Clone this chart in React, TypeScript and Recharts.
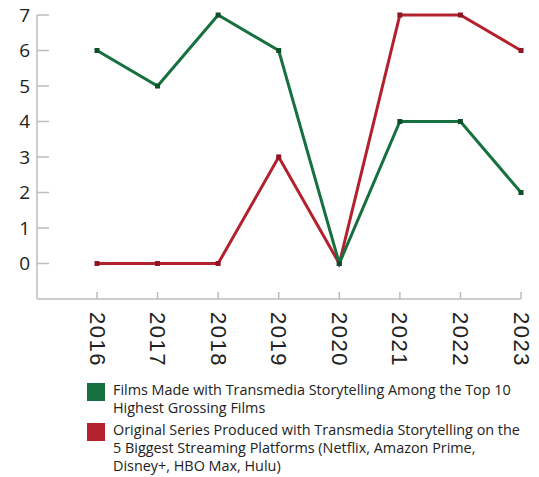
import React from 'react';
import { LineChart, Line, XAxis, YAxis, Legend } from 'recharts';

const years = ['2016', '2017', '2018', '2019', '2020', '2021', '2022', '2023'];
const films = [6, 5, 7, 6, 0, 4, 4, 2];
const series = [0, 0, 0, 3, 0, 7, 7, 6];
const yTicks = [0, 1, 2, 3, 4, 5, 6, 7];

const GREEN = '#17703f';
const RED = '#b3202e';
const AXIS = '#bdbdbd';

const legendItems = [
  {
    color: GREEN,
    lines: ['Films Made with Transmedia Storytelling Among the Top 10', 'Highest Grossing Films'],
  },
  {
    color: RED,
    lines: [
      'Original Series Produced with Transmedia Storytelling on the',
      '5 Biggest Streaming Platforms (Netflix, Amazon Prime,',
      'Disney+, HBO Max, Hulu)',
    ],
  },
];

const data = years.map((year, i) => ({ year, films: films[i], series: series[i] }));

const SquareDot = ({ cx, cy, fill }: any) => {
  if (cx == null || cy == null) return null;
  return <rect x={cx - 2.5} y={cy - 2.5} width={5} height={5} fill={fill} />;
};

const YearTick = ({ x, y, payload }: any) => (
  <g transform={`translate(${x},${y})`}>
    <text
      transform="rotate(90)"
      textAnchor="start"
      dominantBaseline="central"
      fontFamily="'Liberation Sans', Arial, sans-serif"
      fontSize={22}
      letterSpacing={1.5}
      fill="#222"
    >
      {payload.value}
    </text>
  </g>
);

// legend drawn as html under the plot, with wrapped lines like the original
const CustomLegend = () => (
  <div style={{ paddingLeft: 79, fontFamily: "'Open Sans', sans-serif", fontSize: 14.4, color: '#222', lineHeight: '18px' }}>
    {legendItems.map((item, i) => (
      <div key={i} style={{ display: 'flex', alignItems: 'flex-start', marginBottom: i === 0 ? 4 : 2 }}>
        <div style={{ width: 18, height: 18, background: item.color, marginTop: 2, marginRight: 8, flexShrink: 0 }} />
        <div>
          {item.lines.map((l, j) => (
            <div key={j} style={{ whiteSpace: 'nowrap' }}>{l}</div>
          ))}
        </div>
      </div>
    ))}
  </div>
);

export default function App() {
  return (
    <div style={{ marginTop: -8 }}>
      <LineChart
        width={531}
        height={477}
        data={data}
        margin={{ top: 15, right: 18, left: 0, bottom: 0 }}
      >
        <XAxis
          dataKey="year"
          height={82}
          padding={{ left: 60, right: 0 }}
          stroke={AXIS}
          strokeWidth={1.5}
          tickSize={-7}
          tickMargin={20}
          tick={<YearTick />}
          interval={0}
        />
        <YAxis
          width={29}
          domain={[-1, 7]}
          ticks={yTicks}
          stroke={AXIS}
          strokeWidth={1.5}
          tickSize={-12}
          tickMargin={19}
          tick={{ fill: '#222', fontSize: 19, fontFamily: "'Open Sans', sans-serif" }}
          interval={0}
        />
        <Legend verticalAlign="bottom" content={<CustomLegend />} />
        <Line
          dataKey="series"
          stroke={RED}
          strokeWidth={3}
          dot={<SquareDot fill="#8e1622" />}
          isAnimationActive={false}
        />
        <Line
          dataKey="films"
          stroke={GREEN}
          strokeWidth={3}
          dot={<SquareDot fill="#0d4f2a" />}
          isAnimationActive={false}
        />
      </LineChart>
    </div>
  );
}
